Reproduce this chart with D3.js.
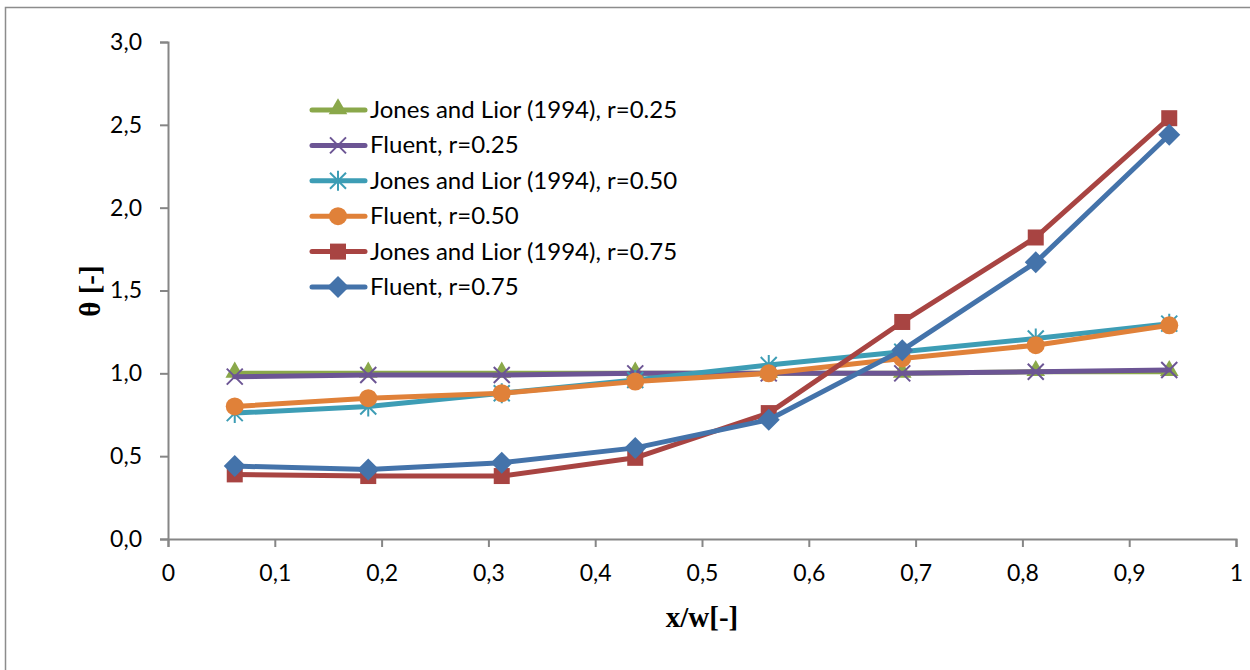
<!DOCTYPE html>
<html><head><meta charset="utf-8">
<script src="https://cdn.jsdelivr.net/npm/d3@7"></script>
<style>body{margin:0;background:#fff}svg{display:block}</style>
</head><body>
<svg id="c" width="1250" height="670"></svg>
<script>
const xValues = [0.0625, 0.1875, 0.3125, 0.4375, 0.5625, 0.6875, 0.8125, 0.9375];
const jonesR025  = [1.00, 1.00, 1.00, 1.00, 1.00, 1.00, 1.01, 1.01];
const fluentR025 = [0.98, 0.99, 0.99, 1.00, 1.00, 1.00, 1.01, 1.02];
const jonesR050  = [0.76, 0.80, 0.88, 0.96, 1.05, 1.13, 1.21, 1.30];
const fluentR050 = [0.80, 0.85, 0.88, 0.95, 1.00, 1.09, 1.17, 1.29];
const jonesR075  = [0.39, 0.38, 0.38, 0.49, 0.76, 1.31, 1.82, 2.54];
const fluentR075 = [0.44, 0.42, 0.46, 0.55, 0.72, 1.14, 1.67, 2.44];
const seriesNames = ["Jones and Lior (1994), r=0.25","Fluent, r=0.25","Jones and Lior (1994), r=0.50","Fluent, r=0.50","Jones and Lior (1994), r=0.75","Fluent, r=0.75"];
const seriesColors = ["#8aa84a","#6c5594","#3d9db5","#e08139","#a84442","#4473aa"];
const seriesMarkers = ["triangle","x","star","circle","square","diamond"];
const xTicks = [0,0.1,0.2,0.3,0.4,0.5,0.6,0.7,0.8,0.9,1];
const yTicks = [0,0.5,1.0,1.5,2.0,2.5,3.0];
const xTitle = "x/w[-]";
const yTitle = "θ [-]";

const seriesValues = [jonesR025, fluentR025, jonesR050, fluentR050, jonesR075, fluentR075];
const svg = d3.select("#c");
const L = 168, R = 1236, T = 42, B = 539;
const x = d3.scaleLinear().domain([0,1]).range([L,R]);
const y = d3.scaleLinear().domain([0,3]).range([B,T]);

// outer chart border (top and left visible)
svg.append("path").attr("d","M5.5,670 V7.5 H1250").attr("fill","none").attr("stroke","#8c8c8c").attr("stroke-width",1.5);

const font = "Lato, 'Open Sans', sans-serif";
const axisColor = "#868686";

// y axis
const gy = svg.append("g").attr("transform",`translate(${L},0)`)
  .call(d3.axisLeft(y).tickValues(yTicks).tickSize(8).tickPadding(18).tickFormat(d=>d3.format(".1f")(d).replace(".",",")));
gy.select(".domain").attr("stroke",axisColor).attr("stroke-width",2);
gy.selectAll(".tick line").attr("stroke",axisColor).attr("stroke-width",2);
gy.selectAll("text").attr("font-family",font).attr("font-size",23).attr("fill","#000");

// x axis
const gx = svg.append("g").attr("transform",`translate(0,${B})`)
  .call(d3.axisBottom(x).tickValues(xTicks).tickSize(8).tickPadding(18).tickFormat(d=>(d===0||d===1)?String(d):String(d).replace(".",",")));
gx.select(".domain").attr("stroke",axisColor).attr("stroke-width",2);
gx.selectAll(".tick line").attr("stroke",axisColor).attr("stroke-width",2);
gx.selectAll("text").attr("font-family",font).attr("font-size",23).attr("fill","#000");

// titles
svg.append("text").attr("x",(L+R)/2).attr("y",627).attr("text-anchor","middle")
  .attr("font-family","'Liberation Serif', 'Times New Roman', serif").attr("font-weight","bold").attr("font-size",29).text(xTitle);
svg.append("text").attr("transform",`translate(100,291) rotate(-90)`).attr("text-anchor","middle")
  .attr("font-family","'Liberation Serif', 'Times New Roman', serif").attr("font-weight","bold").attr("font-size",29).text(yTitle);

function drawMarker(g, type, color){
  if(type==="triangle"){
    g.append("path").attr("d",d3.symbol().type(d3.symbolTriangle).size(150)()).attr("fill",color).attr("transform","translate(0,-1)");
  } else if(type==="square"){
    g.append("rect").attr("x",-8).attr("y",-8).attr("width",16).attr("height",16).attr("fill",color);
  } else if(type==="circle"){
    g.append("circle").attr("r",9).attr("fill",color);
  } else if(type==="diamond"){
    g.append("path").attr("d","M0,-11 L11,0 L0,11 L-11,0 Z").attr("fill",color);
  } else if(type==="x"){
    g.append("path").attr("d","M-8,-8 L8,8 M-8,8 L8,-8").attr("stroke",color).attr("stroke-width",2);
  } else if(type==="star"){
    g.append("path").attr("d","M-8,-8 L8,8 M-8,8 L8,-8 M0,-10 L0,10").attr("stroke",color).attr("stroke-width",2);
  }
}

const line = d3.line().x((d,i)=>x(xValues[i])).y(d=>y(d));
seriesValues.forEach((vals,si)=>{
  svg.append("path").datum(vals).attr("d",line).attr("fill","none")
    .attr("stroke",seriesColors[si]).attr("stroke-width",5).attr("stroke-linejoin","round").attr("stroke-linecap","round");
  vals.forEach((v,i)=>{
    const g = svg.append("g").attr("transform",`translate(${x(xValues[i])},${y(v)})`);
    drawMarker(g, seriesMarkers[si], seriesColors[si]);
  });
});

// legend
const legY0 = 110, legDy = 35.4;
seriesNames.forEach((name,si)=>{
  const yy = legY0 + si*legDy;
  const g = svg.append("g").attr("transform",`translate(0,${yy})`);
  g.append("line").attr("x1",312).attr("x2",365).attr("y1",0).attr("y2",0)
    .attr("stroke",seriesColors[si]).attr("stroke-width",5).attr("stroke-linecap","round");
  const m = g.append("g").attr("transform","translate(338,0)");
  drawMarker(m, seriesMarkers[si], seriesColors[si]);
  g.append("text").attr("x",370).attr("y",8).attr("font-family",font).attr("font-size",24).attr("fill","#000").text(name);
});
</script>
</body></html>
